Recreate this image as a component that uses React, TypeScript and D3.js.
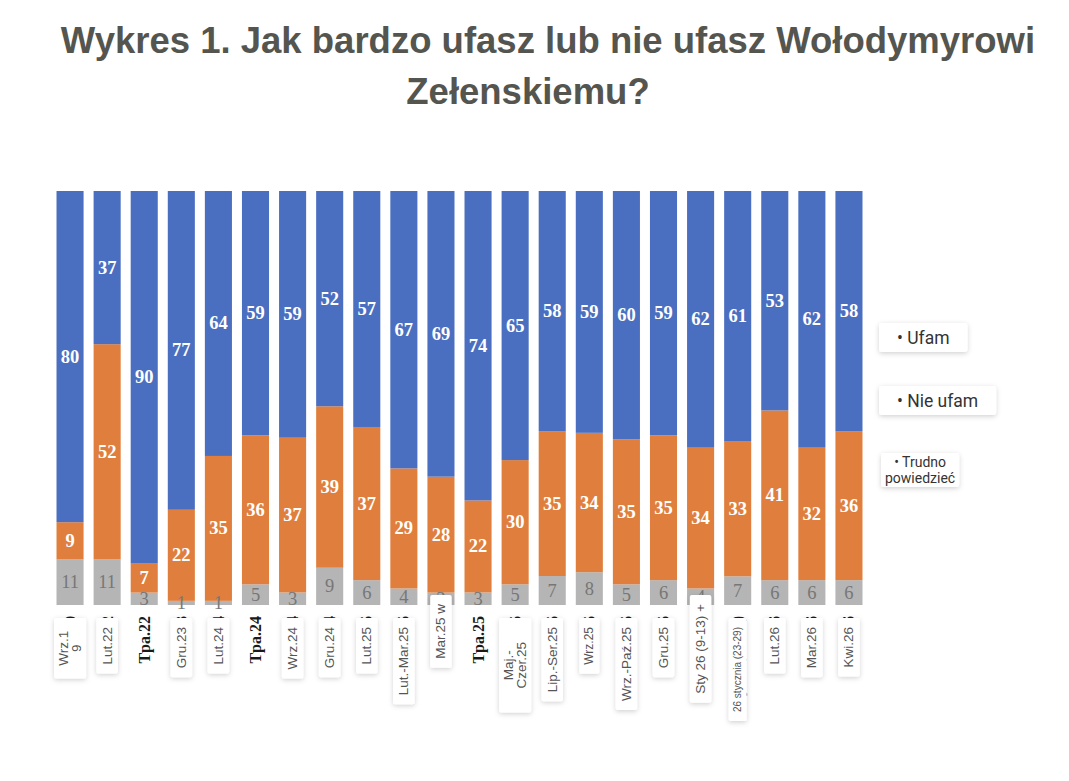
import { useEffect, useRef } from 'react'
import * as d3 from 'd3'

// Survey waves (original bold labels under the translated overlay boxes)
const categories = [
  'Wrz.19', 'Lut.22', 'Tpa.22', 'Gru.23', 'Lut.24', 'Tpa.24', 'Wrz.24', 'Gru.24', 'Lut.25',
  'Lut.-Mar.25', 'Mar.25', 'Tpa.25', 'Maj.-Czer.25', 'Lip.-Ser.25', 'Wrz.25', 'Wrz.-Paź.25',
  'Gru.25', 'Sty 26 (9-13)', 'Sty 26 (23-29)', 'Lut.26', 'Mar.26', 'Kwi.26',
]

// Overlay labels in white boxes (null = no box, bold label stays visible)
const boxLabels: (string | null)[] = [
  'Wrz.1\n9', 'Lut.22', null, 'Gru.23', 'Lut.24', null, 'Wrz.24', 'Gru.24', 'Lut.25',
  'Lut.-Mar.25', 'Mar.25 w', null, 'Maj.-\nCzer.25', 'Lip.-Ser.25', 'Wrz.25', 'Wrz.-Paź.25',
  'Gru.25', 'Sty 26 (9-13) +', '26 stycznia (23-29)', 'Lut.26', 'Mar.26', 'Kwi.26',
]

const ufam = [80, 37, 90, 77, 64, 59, 59, 52, 57, 67, 69, 74, 65, 58, 59, 60, 59, 62, 61, 53, 62, 58]
const nieUfam = [9, 52, 7, 22, 35, 36, 37, 39, 37, 29, 28, 22, 30, 35, 34, 35, 35, 34, 33, 41, 32, 36]
const trudno = [11, 11, 3, 1, 1, 5, 3, 9, 6, 4, 3, 3, 5, 7, 8, 5, 6, 4, 7, 6, 6, 6]

const legendLabels = ['Ufam', 'Nie ufam', 'Trudno\npowiedzieć']

const titleLines = ['Wykres 1. Jak bardzo ufasz lub nie ufasz Wołodymyrowi', 'Zełenskiemu?']

const W = 1069
const H = 781

const App = () => {
  const svgRef = useRef<SVGSVGElement>(null)

  useEffect(() => {
    if (!svgRef.current) return
    const svg = d3.select(svgRef.current)
    svg.selectAll('*').remove()

    const filter = svg
      .append('defs')
      .append('filter')
      .attr('id', 'shadow')
      .attr('x', '-50%')
      .attr('y', '-50%')
      .attr('width', '200%')
      .attr('height', '200%')
    filter
      .append('feDropShadow')
      .attr('dx', 0)
      .attr('dy', 1.5)
      .attr('stdDeviation', 2.5)
      .attr('flood-color', '#000')
      .attr('flood-opacity', 0.18)

    // Title
    const titleX = [548, 528]
    svg
      .selectAll('.title')
      .data(titleLines)
      .enter()
      .append('text')
      .attr('x', (_, i) => titleX[i])
      .attr('y', (_, i) => 52.5 + i * 51)
      .attr('text-anchor', 'middle')
      .style('font-family', '"Liberation Sans", Arial, sans-serif')
      .style('font-weight', 'bold')
      .style('font-size', '36.5px')
      .style('fill', '#555550')
      .text((d) => d)

    const rows = categories.map((c, i) => ({ cat: c, trudno: trudno[i], nie: nieUfam[i], ufam: ufam[i] }))
    const keys = ['trudno', 'nie', 'ufam']
    const colors: Record<string, string> = { ufam: '#4B6FC0', nie: '#E07F3D', trudno: '#B5B5B5' }

    const series = d3
      .stack<any>()
      .keys(keys)
      .offset(d3.stackOffsetExpand)(rows)

    const x = d3
      .scaleBand()
      .domain(categories)
      .range([51.5, 867.5])
      .paddingInner(0.27)
      .paddingOuter(0.135)
    const y = d3.scaleLinear().domain([0, 1]).range([605, 191])

    const layers = svg
      .selectAll('.layer')
      .data(series)
      .enter()
      .append('g')
      .attr('fill', (d) => colors[d.key])

    layers
      .selectAll('rect')
      .data((d) => d)
      .enter()
      .append('rect')
      .attr('x', (d) => x(d.data.cat)!)
      .attr('y', (d) => y(d[1]))
      .attr('width', x.bandwidth())
      .attr('height', (d) => y(d[0]) - y(d[1]))

    // Segment value labels
    series.forEach((s) => {
      svg
        .append('g')
        .selectAll('text')
        .data(s)
        .enter()
        .append('text')
        .attr('x', (d) => x(d.data.cat)! + x.bandwidth() / 2)
        .attr('y', (d) => (y(d[0]) + y(d[1])) / 2)
        .attr('text-anchor', 'middle')
        .attr('dominant-baseline', 'central')
        .style('font-family', '"Liberation Serif", "Times New Roman", serif')
        .style('font-size', '18.5px')
        .style('font-weight', s.key === 'trudno' ? 'normal' : 'bold')
        .style('fill', s.key === 'trudno' ? '#777' : '#fff')
        .text((d) => d.data[s.key])
    })

    // Original bold axis labels
    svg
      .append('g')
      .selectAll('text')
      .data(categories)
      .enter()
      .append('text')
      .attr('transform', (d) => `translate(${x(d)! + x.bandwidth() / 2},616) rotate(-90)`)
      .attr('text-anchor', 'end')
      .attr('dominant-baseline', 'central')
      .style('font-family', '"Liberation Serif", "Times New Roman", serif')
      .style('font-weight', 'bold')
      .style('font-size', '16px')
      .style('fill', '#1a1a1a')
      .text((d) => d)

    // Overlay labels in boxes
    const raised = new Set(['Mar.25 w', 'Sty 26 (9-13) +'])
    const smallFont: Record<string, number> = { 'Wrz.25': 12, '26 stycznia (23-29)': 10 }
    categories.forEach((cat, i) => {
      const label = boxLabels[i]
      if (!label) return
      const cx = x(cat)! + x.bandwidth() / 2
      const top = raised.has(label) ? 595 : 618
      const fs = smallFont[label] ?? 13.5
      const lines = label.split('\n')
      const g = svg.append('g')
      const box = g.append('rect').attr('fill', '#fff').attr('rx', 2).attr('filter', 'url(#shadow)')
      const probe = g
        .append('text')
        .style('font-family', '"Liberation Sans", Arial, sans-serif')
        .style('font-size', `${fs}px`)
        .text(lines.join(''))
      const fullLen = (probe.node() as SVGTextElement).getComputedTextLength()
      probe.remove()
      const h = fullLen + 18
      const bw = lines.length > 1 ? 5 + lines.length * fs : fs + 8
      box
        .attr('x', cx - bw / 2)
        .attr('y', top)
        .attr('width', bw)
        .attr('height', h)
      const t = g
        .append('text')
        .attr('transform', `translate(${cx},${top + h / 2}) rotate(-90)`)
        .attr('text-anchor', 'middle')
        .style('font-family', '"Liberation Sans", Arial, sans-serif')
        .style('font-size', `${fs}px`)
        .style('fill', '#555')
      lines.forEach((ln, j) => {
        t.append('tspan')
          .attr('x', 0)
          .attr('y', (j - (lines.length - 1) / 2) * fs * 0.95)
          .attr('dominant-baseline', 'central')
          .text(ln)
      })
    })

    // Legend (overlay boxes)
    const legendY = [337.5, 400.5, 470]
    legendLabels.forEach((label, i) => {
      const lines = label.split('\n')
      const fs = lines.length > 1 ? 14 : 17.5
      const g = svg.append('g')
      const box = g.append('rect').attr('fill', '#fff').attr('rx', 3).attr('filter', 'url(#shadow)')
      const t = g
        .append('text')
        .attr('text-anchor', 'middle')
        .style('font-family', 'Roboto, "Liberation Sans", Arial, sans-serif')
        .style('font-size', `${fs}px`)
        .style('fill', '#333')
      lines.forEach((ln, j) => {
        t.append('tspan')
          .attr('x', 0)
          .attr('y', (j - (lines.length - 1) / 2) * fs * 1.1)
          .attr('dominant-baseline', 'central')
          .text(j === 0 ? `• ${ln}` : ln)
      })
      const bb = (t.node() as SVGTextElement).getBBox()
      const padX = lines.length > 1 ? 4 : 18
      const bw = bb.width + padX * 2
      const bh = lines.length > 1 ? 34 : 29
      const left = lines.length > 1 ? 881 : 879
      g.attr('transform', `translate(${left + bw / 2},${legendY[i]})`)
      box
        .attr('x', -bw / 2)
        .attr('y', -bh / 2)
        .attr('width', bw)
        .attr('height', bh)
    })
  }, [])

  return (
    <svg
      ref={svgRef}
      width={W}
      height={H}
      style={{ position: 'absolute', left: 0, top: 0, background: '#fff' }}
    />
  )
}

export default App
